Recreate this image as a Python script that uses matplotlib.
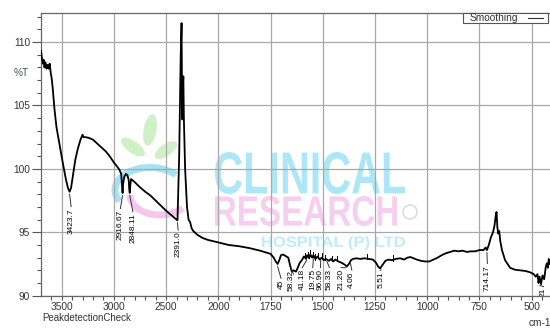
import numpy as np
import matplotlib
matplotlib.use("Agg")
import matplotlib.pyplot as plt
from matplotlib.textpath import TextPath
from matplotlib.font_manager import FontProperties
from matplotlib.patches import PathPatch, Rectangle, Ellipse, Arc
from matplotlib.transforms import Affine2D, IdentityTransform

# spectrum (wavenumber cm-1, %T)
wavenumber = [3698, 3690, 3680, 3672, 3665, 3655, 3645, 3635, 3625, 3615, 3605, 3595, 3585, 3570, 3550,
              3520, 3490, 3460, 3440, 3424, 3410, 3390, 3370, 3345, 3320, 3300, 3290, 3270, 3240, 3200,
              3160, 3120, 3080, 3040, 3000, 2970, 2945, 2930, 2922, 2917, 2912, 2900, 2885, 2870, 2858,
              2852, 2848, 2843, 2835, 2800, 2750, 2700, 2650, 2600, 2550, 2500, 2450, 2400, 2391, 2375,
              2360, 2352, 2348, 2345, 2340, 2335, 2330, 2318, 2300, 2285, 2270, 2255, 2240, 2200, 2150,
              2100, 2050, 2000, 1950, 1900, 1850, 1800, 1770, 1750, 1735, 1725, 1716, 1708, 1700, 1690,
              1675, 1665, 1655, 1648, 1640, 1628, 1620, 1610, 1600, 1590, 1580, 1575, 1565, 1560, 1550,
              1545, 1535, 1525, 1515, 1505, 1495, 1485, 1470, 1460, 1450, 1440, 1425, 1410, 1395, 1385,
              1375, 1365, 1355, 1340, 1320, 1300, 1280, 1260, 1245, 1235, 1225, 1215, 1200, 1185, 1170,
              1150, 1130, 1110, 1095, 1080, 1065, 1050, 1030, 1010, 990, 970, 950, 930, 910, 890,
              870, 850, 830, 810, 790, 770, 750, 730, 720, 714, 705, 695, 685, 678, 672,
              668, 664, 660, 655, 650, 642, 627, 603, 580, 555, 530, 508, 490, 480, 472,
              467, 462, 455, 448, 440, 432, 427, 422, 418, 414, 412]
transmittance = [109.3, 108.8, 108.3, 108.6, 108.0, 108.4, 107.9, 108.2, 107.9, 108.3, 107.6, 107.1, 106.3, 104.8, 103.3,
                 101.9, 100.5, 99.2, 98.5, 98.2, 98.5, 99.6, 100.7, 101.6, 102.3, 102.7, 102.5, 102.5, 102.45, 102.3,
                 102.0, 101.7, 101.4, 101.0, 100.5, 100.2, 99.9, 99.6, 98.6, 98.1, 98.8, 99.4, 99.6, 99.5, 99.1,
                 98.3, 98.1, 98.7, 99.2, 98.95, 98.55, 98.2, 97.9, 97.5, 97.1, 96.7, 96.35, 96.0, 95.95, 101.0,
                 109.0, 111.5, 106.0, 103.9, 106.5, 107.3, 104.0, 100.0, 97.0, 96.0, 95.8, 95.3, 95.1, 94.8, 94.55,
                 94.4, 94.3, 94.2, 94.0, 93.9, 93.75, 93.55, 93.4, 93.3, 93.0, 92.7, 92.5, 92.8, 93.2, 93.25,
                 93.1, 93.0, 92.3, 91.9, 92.0, 91.9, 92.2, 92.6, 92.8, 93.1, 92.9, 93.2, 92.95, 93.25, 93.0,
                 93.2, 92.9, 93.1, 92.85, 93.0, 92.8, 92.9, 92.75, 92.9, 92.7, 92.85, 92.7, 92.6, 92.45, 92.3,
                 92.5, 92.8, 92.9, 92.95, 92.9, 92.95, 92.9, 92.85, 92.6, 92.3, 92.15, 92.4, 92.75, 92.85, 92.8,
                 92.9, 92.95, 92.85, 93.0, 93.05, 92.95, 92.85, 92.75, 92.7, 92.7, 92.85, 93.0, 93.2, 93.35, 93.45,
                 93.55, 93.5, 93.55, 93.45, 93.5, 93.5, 93.6, 93.6, 93.8, 93.6, 94.0, 94.6, 95.0, 95.5, 96.3,
                 96.6, 95.4, 94.9, 95.1, 94.3, 93.6, 92.8, 92.2, 92.05, 92.0, 91.95, 91.85, 91.7, 91.5, 91.7,
                 91.0, 91.5, 90.9, 91.6, 91.3, 92.3, 92.55, 92.2, 92.9, 92.5, 92.7]

# peak labels: text, leader start (wn, %T), label position (wn, top %T)
peak_text = ["3423.7", "2916.67", "2848.11", "2391.0", "45", "58.32", "41.18", "19.75", "96.90",
             "58.33", "21.20", "4.06", "5.51", "714.17", "21"]
peak_wn = [3424, 2917, 2848, 2391, 1716, 1640, 1577, 1545, 1510, 1480, 1390, 1368, 1225, 714, 460]
peak_y = [98.0, 97.9, 97.9, 95.75, 92.3, 91.7, 92.8, 92.9, 92.8, 92.7, 92.2, 92.6, 92.0, 93.4, 90.8]
label_wn = [3410, 2938, 2818, 2385, 1700, 1652, 1598, 1548, 1511, 1468, 1412, 1361, 1221, 712, 443]
label_top = [96.9, 96.75, 96.5, 95.05, 91.25, 92.0, 92.1, 92.1, 92.1, 92.1, 92.1, 91.9, 91.9, 92.42, 90.6]
tick_marks = [1585, 1572, 1560, 1548, 1535, 1522, 1505, 1490, 1455, 1430, 1290, 1165]

xmajor = [3500, 3000, 2500, 2000, 1750, 1500, 1250, 1000, 750, 500]
ymajor = [90, 95, 100, 105, 110]


def fwd(x):
    x = np.asarray(x, dtype=float)
    return np.where(x >= 2000, (x - 2000) / 500.0, (x - 2000) / 250.0)


def inv(u):
    u = np.asarray(u, dtype=float)
    return np.where(u >= 0, 2000 + u * 500.0, 2000 + u * 250.0)


plt.rcParams['font.family'] = ['Liberation Sans', 'DejaVu Sans']
W, H = 550, 328
fig = plt.figure(figsize=(5.5, 3.28), dpi=100)
ax = fig.add_axes([41 / W, (H - 295.7) / H, 509 / W, (295.7 - 13.3) / H])
ax.set_xscale('function', functions=(fwd, inv))
ax.set_xlim(3698, 412)
ax.set_ylim(90, 112.27)

ax.set_xticks(xmajor)
ax.set_xticklabels([str(v) for v in xmajor])
minors = [v for v in range(3600, 2000, -100) if v not in xmajor] + \
         [v for v in range(1950, 400, -50) if v not in xmajor]
ax.set_xticks(minors, minor=True)
ax.set_yticks(ymajor)
ax.set_yticks(np.arange(90, 113, 1), minor=True)
ax.tick_params(axis='both', which='both', direction='out', colors='#555555',
               labelcolor='#333333', labelsize=7.3, width=0.8)
ax.tick_params(axis='y', which='major', length=6.3, pad=1.5)
ax.tick_params(axis='y', which='minor', length=3)
ax.tick_params(axis='x', which='both', length=3, pad=1.8)
ax.grid(True, which='major', color='#a8a8a8', lw=0.9)
ax.set_axisbelow(True)
for s in ['top', 'left', 'bottom']:
    ax.spines[s].set_color('#666666')
    ax.spines[s].set_linewidth(0.9)
ax.spines['right'].set_visible(False)

# watermark
def stamp(text, x0, x1, y0, y1, color):
    tp = TextPath((0, 0), text, size=1, prop=FontProperties(family='Liberation Sans', weight='bold'))
    ext = tp.get_extents()
    tr = Affine2D().translate(-ext.x0, -ext.y0).scale((x1 - x0) / ext.width, (y1 - y0) / ext.height) \
        .translate(x0, H - y1)
    fig.patches.append(PathPatch(tr.transform_path(tp), fc=color, ec='none', alpha=0.85,
                                 transform=IdentityTransform(), zorder=1.5))

stamp("CLINICAL", 215, 405, 152, 194, '#9fe3f6')
stamp("RESEARCH", 215, 397, 196, 226, '#f5c6ee')
stamp("HOSPITAL (P) LTD", 262, 405, 236, 250, '#b3e9f6')
for cx, cy, w, h, ang in [(150, 130, 13, 32, -10), (133, 147, 12, 28, 55), (166, 150, 12, 26, -55)]:
    fig.patches.append(Ellipse((cx, H - cy), w, h, angle=ang, fc='#c8efbf', ec='none', alpha=0.85,
                               transform=IdentityTransform(), zorder=1.5))
fig.patches.append(Arc((150, H - 190), 70, 45, theta1=30, theta2=200, color='#a6e2f5', lw=5,
                       transform=IdentityTransform(), zorder=1.5))
fig.patches.append(Arc((160, H - 195), 60, 40, theta1=180, theta2=330, color='#f5c6ee', lw=5,
                       transform=IdentityTransform(), zorder=1.5))
fig.patches.append(Ellipse((410, H - 212), 14, 14, fc='none', ec='#dddddd', lw=1.2,
                           transform=IdentityTransform(), zorder=1.5))

ax.patch.set_alpha(0)
ax.set_zorder(2)
ax.plot(wavenumber, transmittance, color='black', lw=1.3, zorder=3)

for wn in tick_marks:
    yv = np.interp(-wn, -np.array(wavenumber), transmittance)
    ax.plot([wn, wn], [yv - 0.05, yv + 0.35], color='black', lw=0.7, zorder=3)

for t, pw, py, lw_, lt in zip(peak_text, peak_wn, peak_y, label_wn, label_top):
    ax.plot([pw, lw_], [py, lt + 0.12], color='#333333', lw=0.7, zorder=3)
    ax.text(lw_, lt, t, rotation=90, ha='center', va='top', fontsize=6, color='black',
            zorder=4, clip_on=True)

fig.text(14 / W, 1 - 73 / H, '%T', fontsize=7.3, color='#3f5a55', va='center')
fig.text(42 / W, 1 - 318 / H, 'PeakdetectionCheck', fontsize=7, color='#333333', va='center')
fig.text(529 / W, 1 - 323 / H, 'cm-1', fontsize=7.3, color='#333333', va='center')

fig.patches.append(Rectangle((463 / W, 1 - 23 / H), 85 / W, 10 / H, transform=fig.transFigure,
                             fc='white', ec='#555555', lw=0.8, zorder=5))
fig.text(470 / W, 1 - 18 / H, 'Smoothing', fontsize=7.3, color='#333333', va='center', zorder=6)
fig.lines.append(plt.Line2D([528 / W, 543 / W], [1 - 18 / H, 1 - 18 / H], transform=fig.transFigure,
                            color='#333333', lw=0.8, zorder=6))

fig.savefig('out.png', dpi=100)
